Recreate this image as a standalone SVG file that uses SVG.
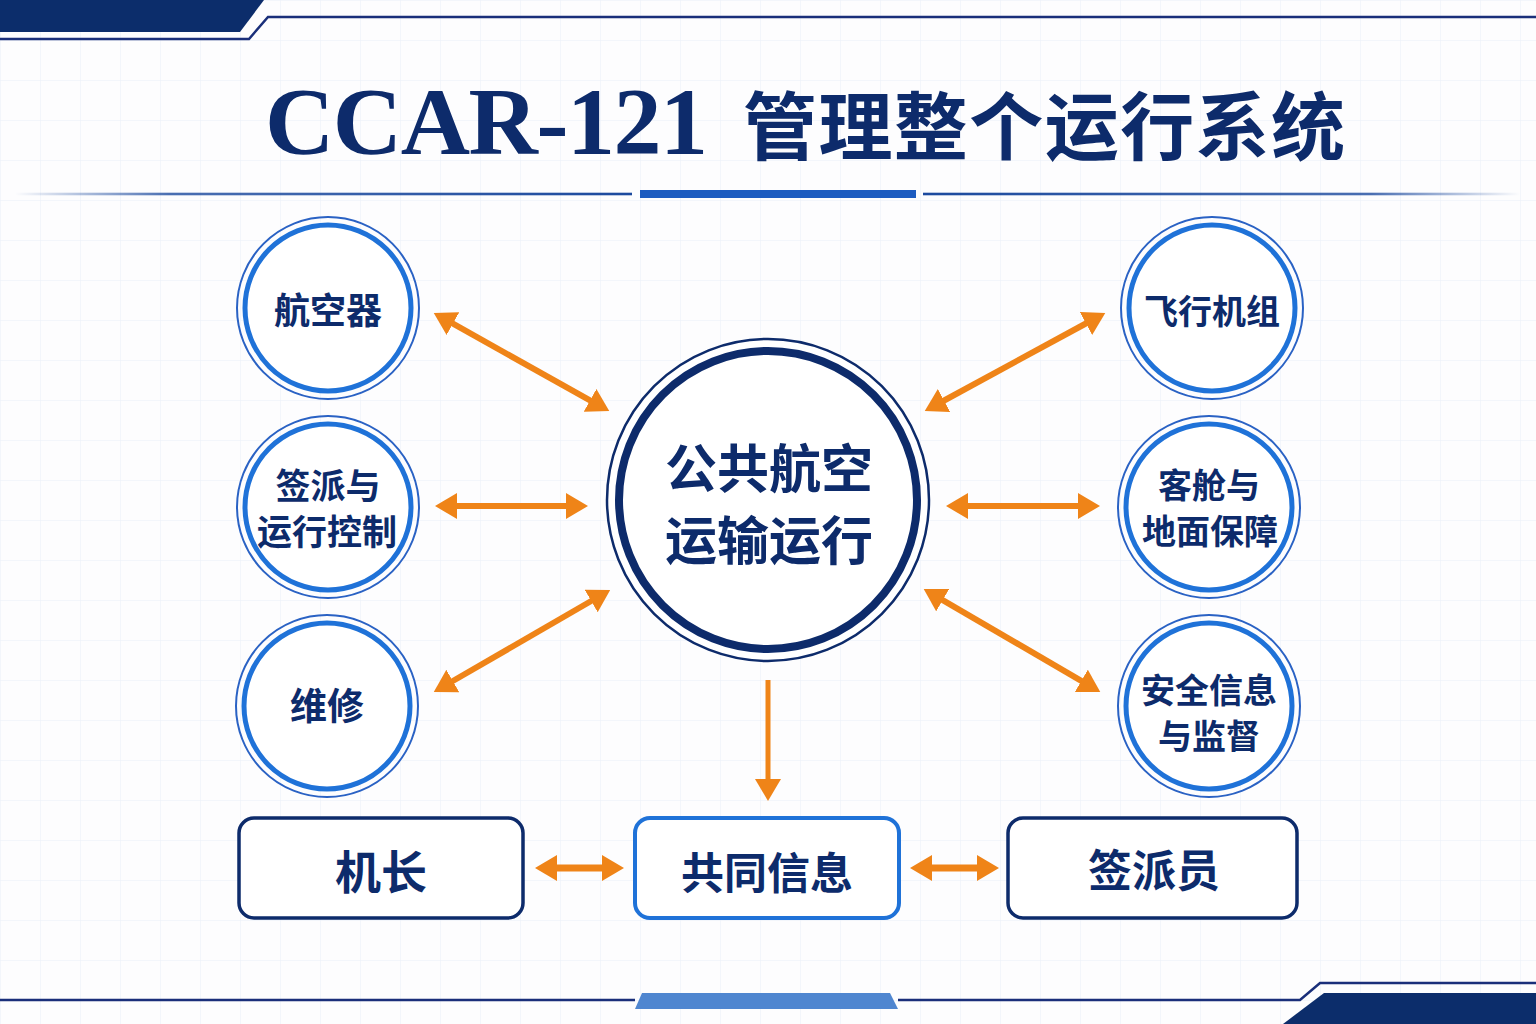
<svg xmlns="http://www.w3.org/2000/svg" width="1536" height="1024" viewBox="0 0 1536 1024">
<defs>
<style>
.t{font-family:"Noto Sans CJK SC","Noto Sans",sans-serif;font-weight:700;fill:#0d2b6b;text-anchor:middle;dominant-baseline:central}
.ring-o{fill:none;stroke:#2a62c4;stroke-width:2}
.ring-i{fill:#ffffff;stroke:#1f72d8;stroke-width:5}
.arr{stroke:#ef8418;stroke-width:6;fill:none;marker-start:url(#ah);marker-end:url(#ah)}
.arr1{stroke:#ef8418;stroke-width:5;fill:none;marker-end:url(#ah)}
.arrb{stroke:#ef8418;stroke-width:7;fill:none;marker-start:url(#ah);marker-end:url(#ah)}
.hline{stroke:#1a2f7a;stroke-width:2.5;fill:none}
</style>
<pattern id="grid" width="40" height="40" patternUnits="userSpaceOnUse">
<path d="M40 0H0V40" fill="none" stroke="#eaeff7" stroke-width="1"/>
</pattern>
<marker id="ah" viewBox="0 0 22 26" refX="2" refY="13" markerWidth="22" markerHeight="26" markerUnits="userSpaceOnUse" orient="auto-start-reverse">
<path d="M0,0 L22,13 L0,26 z" fill="#ef8418"/>
</marker>
<linearGradient id="gl" gradientUnits="userSpaceOnUse" x1="15" y1="0" x2="632" y2="0">
<stop offset="0" stop-color="#1c4a9e" stop-opacity="0"/>
<stop offset="0.25" stop-color="#1c4a9e" stop-opacity="0.8"/>
<stop offset="1" stop-color="#1c4a9e"/>
</linearGradient>
<linearGradient id="gr" gradientUnits="userSpaceOnUse" x1="923" y1="0" x2="1520" y2="0">
<stop offset="0" stop-color="#1c4a9e"/>
<stop offset="0.75" stop-color="#1c4a9e" stop-opacity="0.8"/>
<stop offset="1" stop-color="#1c4a9e" stop-opacity="0"/>
</linearGradient>
</defs>
<rect width="1536" height="1024" fill="#fdfdfe"/>
<rect width="1536" height="1024" fill="url(#grid)"/>

<g id="header">
<polygon points="0,0 264,0 240,32 0,32" fill="#0c2d6b"/>
<polyline class="hline" points="0,39 249,39 268,17 1536,17"/>
<text x="265" y="121" font-family="Liberation Serif,serif" font-weight="700" font-size="96" fill="#0d2b6b" dominant-baseline="central" textLength="443" lengthAdjust="spacing">CCAR-121</text>
<text x="743" y="121" font-family="Noto Sans CJK SC,sans-serif" font-weight="700" font-size="74" fill="#0d2b6b" dominant-baseline="central" textLength="602" lengthAdjust="spacing">管理整个运行系统</text>
<rect x="15" y="192.7" width="617" height="2.6" fill="url(#gl)"/>
<rect x="640" y="190" width="276" height="8" fill="#1d5cc0"/>
<rect x="923" y="192.7" width="597" height="2.6" fill="url(#gr)"/>
</g>

<g id="footer">
<polyline class="hline" points="0,1000 635,1000"/>
<polygon points="642,993 890,993 898,1009 635,1009" fill="#4f86d0"/>
<polyline class="hline" points="898,1000 1300,1000 1320,983 1536,983"/>
<polygon points="1283,1024 1324,993 1536,993 1536,1024" fill="#0c2d6b"/>
</g>

<g id="connectors">
<line class="arr" x1="451.2" y1="322.7" x2="591.8" y2="401.3"/>
<line class="arr" x1="455" y1="506" x2="568" y2="506"/>
<line class="arr" x1="451.1" y1="682" x2="592.9" y2="600"/>
<line class="arr" x1="942.3" y1="401.5" x2="1087.7" y2="322.5"/>
<line class="arr" x1="966" y1="506" x2="1080" y2="506"/>
<line class="arr" x1="941" y1="599.1" x2="1083" y2="681.9"/>
<line class="arr1" x1="768" y1="680" x2="768" y2="781"/>
<line class="arrb" x1="555" y1="868" x2="604" y2="868"/>
<line class="arrb" x1="930" y1="868" x2="979" y2="868"/>
</g>

<g id="center">
<circle cx="768" cy="500" r="161" fill="#ffffff" stroke="#0d2b6b" stroke-width="2.5"/>
<circle cx="768" cy="500" r="149" fill="#ffffff" stroke="#0d2b6b" stroke-width="8"/>
<text class="t" font-size="52"><tspan x="769" y="465">公共航空</tspan><tspan x="769" y="537">运输运行</tspan></text>
</g>

<g id="n-aircraft">
<circle class="ring-o" cx="328" cy="308" r="91"/>
<circle class="ring-i" cx="328" cy="308" r="83"/>
<text class="t" x="328" y="308" font-size="36">航空器</text>
</g>
<g id="n-dispatch">
<circle class="ring-o" cx="328" cy="507" r="91"/>
<circle class="ring-i" cx="328" cy="507" r="83"/>
<text class="t" font-size="35"><tspan x="328" y="483">签派与</tspan><tspan x="327" y="529">运行控制</tspan></text>
</g>
<g id="n-maint">
<circle class="ring-o" cx="327" cy="706" r="91"/>
<circle class="ring-i" cx="327" cy="706" r="83"/>
<text class="t" x="327" y="704" font-size="37">维修</text>
</g>
<g id="n-crew">
<circle class="ring-o" cx="1212" cy="308" r="91"/>
<circle class="ring-i" cx="1212" cy="308" r="83"/>
<text class="t" x="1212" y="309" font-size="34">飞行机组</text>
</g>
<g id="n-cabin">
<circle class="ring-o" cx="1209" cy="507" r="91"/>
<circle class="ring-i" cx="1209" cy="507" r="83"/>
<text class="t" font-size="34"><tspan x="1209" y="483">客舱与</tspan><tspan x="1210" y="529">地面保障</tspan></text>
</g>
<g id="n-safety">
<circle class="ring-o" cx="1209" cy="706" r="91"/>
<circle class="ring-i" cx="1209" cy="706" r="83"/>
<text class="t" font-size="34"><tspan x="1209" y="688">安全信息</tspan><tspan x="1209" y="734">与监督</tspan></text>
</g>

<g id="n-captain">
<rect x="239" y="818" width="284" height="100" rx="15" fill="#ffffff" stroke="#0d2b6b" stroke-width="3.5"/>
<text class="t" x="381" y="869" font-size="46">机长</text>
</g>
<g id="n-shared">
<rect x="635" y="818" width="264" height="100" rx="15" fill="#ffffff" stroke="#1f72d8" stroke-width="4"/>
<text class="t" x="767" y="870" font-size="43">共同信息</text>
</g>
<g id="n-dispatcher">
<rect x="1008" y="818" width="289" height="100" rx="15" fill="#ffffff" stroke="#0d2b6b" stroke-width="3.5"/>
<text class="t" x="1154" y="868" font-size="44">签派员</text>
</g>
</svg>
